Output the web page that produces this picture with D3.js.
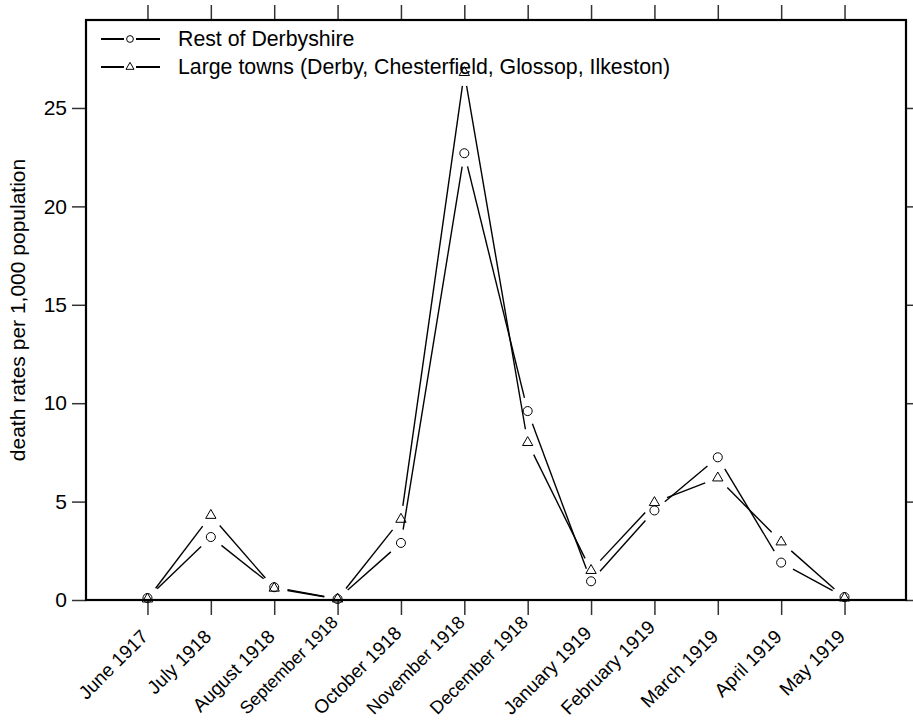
<!DOCTYPE html>
<html>
<head>
<meta charset="utf-8">
<script src="https://cdn.jsdelivr.net/npm/d3@7"></script>
<style>
  html, body { margin: 0; padding: 0; background: #ffffff; }
  svg { display: block; }
  text { font-family: "Liberation Sans", Arial, sans-serif; fill: #000; }
</style>
</head>
<body>
<svg id="chart" width="913" height="722"></svg>
<script>
const months = ["June 1917", "July 1918", "August 1918", "September 1918", "October 1918",
  "November 1918", "December 1918", "January 1919", "February 1919", "March 1919",
  "April 1919", "May 1919"];
const restOfDerbyshire = [0.1, 3.2, 0.65, 0.05, 2.9, 22.7, 9.6, 0.95, 4.55, 7.25, 1.9, 0.15];
const largeTowns = [0.05, 4.3, 0.6, 0.05, 4.1, 26.8, 8.0, 1.5, 4.95, 6.2, 2.95, 0.1];
const yTicks = [0, 5, 10, 15, 20, 25];
const seriesNames = ["Rest of Derbyshire", "Large towns (Derby, Chesterfield, Glossop, Ilkeston)"];

const svg = d3.select("#chart");
const L = 86, R = 906, T = 20, B = 600;
const FONT = "Liberation Sans, Arial, sans-serif";

const x = d3.scalePoint().domain(months).range([L, R]).padding(0.97);
const y = d3.scaleLinear().domain([0, 29.47]).range([B, T]);

const tickColor = "#333";

// Axes
const gBottom = svg.append("g").attr("transform", `translate(0,${B})`)
  .call(d3.axisBottom(x).tickSize(15).tickFormat(""));
const gTop = svg.append("g").attr("transform", `translate(0,${T})`)
  .call(d3.axisTop(x).tickSize(15).tickFormat(""));
const gLeft = svg.append("g").attr("transform", `translate(${L},0)`)
  .call(d3.axisLeft(y).tickValues(yTicks).tickSize(14).tickPadding(5));
const gRight = svg.append("g").attr("transform", `translate(${R},0)`)
  .call(d3.axisRight(y).tickValues(yTicks).tickSize(14).tickFormat(""));

[gBottom, gTop, gLeft, gRight].forEach(g => {
  g.select(".domain").remove();
  g.selectAll(".tick line").attr("stroke", tickColor).attr("stroke-width", 1.5);
});
gLeft.selectAll(".tick text").attr("font-size", 21).attr("font-family", FONT).attr("fill", "#000");

// x labels rotated, fitted to the bottom edge like the reference
const xl = svg.append("g").selectAll("text").data(months).join("text")
  .attr("text-anchor", "end")
  .attr("font-size", 19)
  .attr("dy", "0.35em")
  .text(d => d);
xl.each(function (d) {
  const t = d3.select(this);
  let fs = 19;
  const len = this.getComputedTextLength();
  const limit = 711;
  let ay = Math.min(633, limit - len * 0.7071);
  if (ay < 619) {
    fs = fs * (limit - 619) / (len * 0.7071);
    t.attr("font-size", fs);
    ay = 619;
  }
  t.attr("transform", `translate(${x(d) - 3},${ay}) rotate(-45)`);
});

// frame
svg.append("rect").attr("x", L).attr("y", T).attr("width", R - L).attr("height", B - T)
  .attr("fill", "none").attr("stroke", "#000").attr("stroke-width", 2.2);

// y title
svg.append("text")
  .attr("transform", `translate(18,${(T + B) / 2}) rotate(-90)`)
  .attr("text-anchor", "middle")
  .attr("dy", "0.35em")
  .attr("font-size", 21)
  .text("death rates per 1,000 population");

// type="b" style lines with gaps around the markers
const GAP = 13.5;
function gappedSegments(vals) {
  const pts = vals.map((v, i) => [x(months[i]), y(v)]);
  const segs = [];
  for (let i = 0; i < pts.length - 1; i++) {
    const [x0, y0] = pts[i], [x1, y1] = pts[i + 1];
    const dx = x1 - x0, dy = y1 - y0, len = Math.hypot(dx, dy);
    if (len <= 2 * GAP) continue;
    const ux = dx / len, uy = dy / len;
    segs.push([[x0 + ux * GAP, y0 + uy * GAP], [x1 - ux * GAP, y1 - uy * GAP]]);
  }
  return segs;
}
const line = d3.line();
function drawSeries(vals, shape) {
  const g = svg.append("g");
  g.selectAll("path.seg").data(gappedSegments(vals)).join("path")
    .attr("class", "seg")
    .attr("d", d => line(d))
    .attr("stroke", "#000").attr("stroke-width", 1.4).attr("fill", "none");
  g.selectAll("path.mk").data(vals).join("path")
    .attr("class", "mk")
    .attr("transform", (d, i) => `translate(${x(months[i])},${y(d)})`)
    .attr("d", d3.symbol().type(shape).size(shape === d3.symbolCircle ? 64 : 46))
    .attr("fill", "none").attr("stroke", "#000").attr("stroke-width", 1);
}
drawSeries(restOfDerbyshire, d3.symbolCircle);
drawSeries(largeTowns, d3.symbolTriangle);

// legend
const legRows = [{ name: seriesNames[0], shape: d3.symbolCircle, yy: 39 },
                 { name: seriesNames[1], shape: d3.symbolTriangle, yy: 67 }];
const leg = svg.append("g");
legRows.forEach(r => {
  leg.append("line").attr("x1", 101).attr("x2", 124).attr("y1", r.yy).attr("y2", r.yy)
    .attr("stroke", "#000").attr("stroke-width", 2);
  leg.append("line").attr("x1", 136).attr("x2", 160).attr("y1", r.yy).attr("y2", r.yy)
    .attr("stroke", "#000").attr("stroke-width", 2);
  leg.append("path").attr("transform", `translate(130,${r.yy})`)
    .attr("d", d3.symbol().type(r.shape).size(r.shape === d3.symbolCircle ? 36 : 28))
    .attr("fill", "none").attr("stroke", "#000").attr("stroke-width", 1);
  leg.append("text").attr("x", 178).attr("y", r.yy).attr("dy", "0.35em")
    .attr("font-size", 21.3).text(r.name);
});
</script>
</body>
</html>
